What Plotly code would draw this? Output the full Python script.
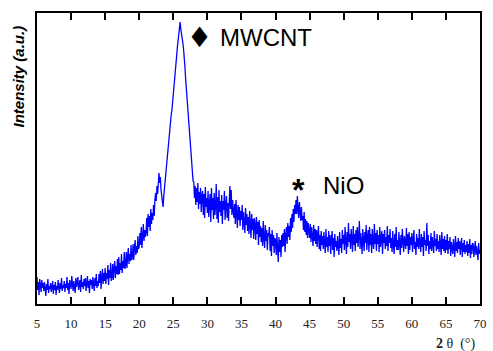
import numpy as np
import plotly.graph_objects as go

# 2-theta grid (degrees), step 0.1 from 5 to 70
two_theta = np.round(np.linspace(5.0, 70.0, 651), 1)

# Intensity (a.u.), 10 values per degree
intensity = [
    27, 14, 22, 9, 25, 18, 12, 24, 16, 21,        # 5
    13, 22, 16, 8, 20, 14, 25, 11, 18, 15,        # 6
    21, 12, 17, 23, 10, 19, 14, 22, 9, 18,        # 7
    14, 24, 17, 11, 21, 15, 26, 13, 19, 16,       # 8
    23, 12, 20, 16, 27, 14, 21, 10, 24, 18,       # 9
    15, 28, 18, 13, 23, 19, 11, 26, 17, 22,       # 10
    27, 14, 20, 24, 12, 29, 17, 22, 15, 25,       # 11
    18, 26, 13, 21, 28, 16, 23, 11, 25, 19,       # 12
    24, 15, 27, 20, 13, 26, 18, 30, 16, 23,       # 13
    18, 30, 21, 33, 15, 27, 35, 20, 31, 23,       # 14
    36, 20, 31, 25, 39, 19, 34, 26, 41, 23,       # 15
    27, 40, 24, 36, 43, 26, 38, 30, 45, 29,       # 16
    47, 30, 41, 34, 50, 31, 43, 36, 52, 35,       # 17
    39, 52, 36, 48, 56, 40, 50, 43, 59, 44,       # 18
    47, 60, 44, 57, 64, 49, 58, 51, 68, 55,       # 19
    57, 71, 59, 77, 56, 68, 80, 63, 74, 67,       # 20
    72, 86, 68, 90, 77, 88, 73, 95, 80, 91,       # 21
    84, 99, 88, 104, 111, 103, 118, 110, 126, 131,    # 22
    121, 127, 114, 106, 100, 97, 108, 116, 124, 132,  # 23
    140, 147, 156, 162, 168, 176, 183, 190, 194, 201, # 24
    208, 214, 222, 230, 240, 249, 257, 264, 270, 276, # 25
    282, 275, 268, 265, 261, 255, 248, 238, 226, 216, # 26
    208, 198, 188, 176, 165, 154, 144, 135, 128, 123, # 27
    122, 106, 118, 99, 116, 102, 121, 95, 112, 100,   # 28
    116, 92, 108, 113, 89, 110, 86, 117, 97, 106,     # 29
    91, 113, 87, 104, 110, 82, 116, 94, 106, 85,      # 30
    111, 89, 98, 120, 85, 107, 81, 114, 92, 103,      # 31
    88, 109, 80, 103, 94, 113, 84, 99, 108, 86,       # 32
    101, 83, 109, 118, 95, 114, 89, 104, 93, 86,      # 33
    100, 80, 104, 88, 76, 99, 84, 97, 78, 93,         # 34
    84, 99, 74, 92, 80, 71, 96, 79, 90, 73,           # 35
    87, 70, 93, 77, 66, 90, 74, 85, 65, 86,           # 36
    79, 64, 87, 70, 82, 59, 84, 67, 78, 62,           # 37
    76, 58, 83, 66, 56, 79, 63, 74, 54, 71,           # 38
    68, 77, 53, 70, 48, 74, 58, 69, 51, 66,           # 39
    63, 49, 71, 55, 42, 67, 52, 64, 47, 69,           # 40
    57, 71, 58, 75, 52, 69, 77, 60, 81, 67,           # 41
    78, 64, 86, 72, 90, 76, 95, 82, 99, 90,           # 42
    104, 90, 108, 95, 86, 102, 89, 83, 97, 84,        # 43
    88, 74, 92, 72, 85, 69, 83, 66, 81, 70,           # 44
    66, 80, 62, 77, 68, 58, 79, 63, 75, 60,           # 45
    74, 57, 70, 78, 55, 69, 53, 73, 59, 68,           # 46
    55, 72, 60, 51, 75, 57, 67, 52, 73, 58,           # 47
    69, 50, 64, 73, 54, 66, 47, 70, 57, 63,           # 48
    53, 68, 58, 49, 72, 56, 65, 51, 74, 60,           # 49
    69, 54, 77, 61, 50, 72, 57, 81, 62, 70,           # 50
    55, 75, 63, 52, 78, 59, 70, 53, 74, 61,           # 51
    77, 57, 68, 83, 55, 71, 62, 50, 75, 64,           # 52
    53, 72, 61, 79, 54, 67, 74, 52, 77, 59,           # 53
    70, 51, 75, 62, 55, 80, 60, 71, 53, 74,           # 54
    60, 69, 52, 77, 57, 66, 73, 50, 70, 61,           # 55
    74, 55, 67, 58, 78, 53, 69, 61, 75, 56,           # 56
    66, 52, 73, 59, 50, 70, 57, 77, 54, 64,           # 57
    54, 72, 61, 49, 69, 56, 75, 60, 52, 68,           # 58
    63, 55, 76, 58, 70, 50, 72, 54, 67, 59,           # 59
    71, 52, 64, 74, 55, 62, 49, 70, 57, 66,           # 60
    55, 75, 60, 52, 70, 57, 67, 48, 73, 59,           # 61
    64, 53, 81, 58, 69, 50, 63, 55, 71, 53,           # 62
    67, 57, 51, 73, 58, 65, 53, 70, 55, 63,           # 63
    52, 69, 57, 49, 72, 55, 65, 53, 68, 51,           # 64
    64, 54, 70, 50, 63, 55, 67, 48, 62, 57,           # 65
    50, 65, 55, 47, 68, 53, 62, 51, 66, 55,           # 66
    63, 49, 60, 66, 47, 61, 52, 64, 50, 59,           # 67
    52, 63, 48, 60, 51, 65, 46, 59, 50, 61,           # 68
    60, 47, 57, 63, 49, 58, 52, 44, 61, 50,           # 69
    54,                                               # 70
]

x_ticks = [5, 10, 15, 20, 25, 30, 35, 40, 45, 50, 55, 60, 65, 70]

fig = go.Figure()
fig.add_trace(go.Scatter(
    x=two_theta, y=intensity, mode="lines",
    line=dict(color="#0000ff", width=1.3),
    hoverinfo="skip", showlegend=False,
))

ann_font = dict(family="Liberation Sans, Arial, sans-serif", size=24, color="black")
fig.add_annotation(x=28.8, y=267, text="♦", showarrow=False, xanchor="center",
                   yanchor="middle", font=dict(family="DejaVu Sans", size=28, color="black"))
fig.add_annotation(x=31.6, y=267, text="MWCNT", showarrow=False, xanchor="left",
                   yanchor="middle", font=ann_font)
fig.add_annotation(x=43.4, y=114, text="<b>*</b>", showarrow=False, xanchor="center",
                   yanchor="middle", font=dict(family="Liberation Sans", size=32, color="black"))
fig.add_annotation(x=46.6, y=119, text="NiO", showarrow=False, xanchor="left",
                   yanchor="middle", font=ann_font)

# axis titles
fig.add_annotation(xref="paper", yref="paper", x=0.993, y=-0.137,
                   text="<b>2</b> θ  (°)", showarrow=False, xanchor="right", yanchor="middle",
                   font=dict(family="Liberation Serif, Times New Roman, serif", size=14, color="#222"))
fig.add_annotation(xref="paper", yref="paper", x=-0.042, y=0.783,
                   text="<b><i>Intensity (a.u.)</i></b>", showarrow=False, textangle=-90,
                   xanchor="center", yanchor="middle",
                   font=dict(family="Liberation Sans, Arial, sans-serif", size=15, color="black"))

fig.update_layout(
    width=493, height=351,
    margin=dict(l=37, r=6, t=13, b=47),
    paper_bgcolor="white", plot_bgcolor="white",
)
fig.update_xaxes(
    range=[5, 70], tickmode="array", tickvals=x_ticks,
    ticks="inside", ticklen=7, tickwidth=1.5, tickcolor="black",
    showline=True, linecolor="black", linewidth=2, mirror="ticks",
    showgrid=False, zeroline=False, ticklabelstandoff=6,
    tickfont=dict(family="Liberation Serif, Times New Roman, serif", size=13, color="#222"),
)
fig.update_yaxes(
    range=[0, 291], showticklabels=False, ticks="",
    showline=True, linecolor="black", linewidth=2, mirror=True,
    showgrid=False, zeroline=False,
)

fig.write_html("out.html", config={"displayModeBar": False},
               post_script="document.body.style.margin='0';document.body.style.overflow='hidden';")
